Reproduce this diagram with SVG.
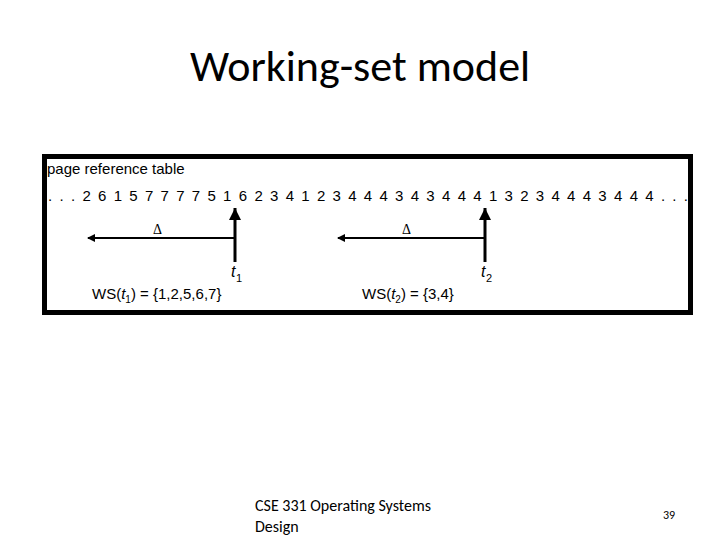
<svg xmlns="http://www.w3.org/2000/svg" width="720" height="540" viewBox="0 0 720 540">
<style>
.s{font-family:"Liberation Sans",Arial,sans-serif;fill:#000}
.c{font-family:Calibri,Carlito,"Liberation Sans",sans-serif;fill:#000}
.ln{stroke:#000;stroke-width:2;fill:none}
.vl{stroke:#000;stroke-width:3;fill:none}
</style>
<defs>
<marker id="ah" markerWidth="8" markerHeight="8" refX="7" refY="4" orient="auto" markerUnits="userSpaceOnUse"><path d="M0,0 L8,4 L0,8 z" fill="#000"/></marker>
<marker id="av" markerWidth="12" markerHeight="14" refX="12" refY="6" orient="auto" markerUnits="userSpaceOnUse"><path d="M0,0 L12,6 L0,12 z" fill="#000"/></marker>
</defs>
<rect width="720" height="540" fill="#fff"/>
<text class="c" x="360" y="81" font-size="44" text-anchor="middle">Working-set model</text>
<g id="frame">
<rect x="44.5" y="156.5" width="646" height="156" fill="#fff" stroke="#000" stroke-width="5"/>
<text class="s" x="47" y="174" font-size="15">page reference table</text>
<text class="s" x="48" y="201" font-size="15" textLength="640" lengthAdjust="spacing">. . . 2 6 1 5 7 7 7 7 5 1 6 2 3 4 1 2 3 4 4 4 3 4 3 4 4 4 1 3 2 3 4 4 4 3 4 4 4 . . .</text>
</g>
<g id="connectors">
<line class="vl" x1="235" y1="262" x2="235" y2="208" marker-end="url(#av)"/>
<line class="ln" x1="235" y1="238" x2="88" y2="238" marker-end="url(#ah)"/>
<line class="vl" x1="485" y1="262" x2="485" y2="208" marker-end="url(#av)"/>
<line class="ln" x1="485" y1="238" x2="338" y2="238" marker-end="url(#ah)"/>
</g>
<g id="t1">
<text x="153" y="234" font-size="14" font-family="Liberation Serif,serif">Δ</text>
<text class="s" x="231" y="277" font-size="16" font-style="italic">t</text>
<text class="s" x="236" y="282" font-size="11">1</text>
<text class="s" x="92" y="299" font-size="15">WS(<tspan font-style="italic">t</tspan><tspan font-size="10" dy="4">1</tspan><tspan dy="-4">) = {1,2,5,6,7}</tspan></text>
</g>
<g id="t2">
<text x="402" y="234" font-size="14" font-family="Liberation Serif,serif">Δ</text>
<text class="s" x="481" y="277" font-size="16" font-style="italic">t</text>
<text class="s" x="486" y="282" font-size="11">2</text>
<text class="s" x="362" y="299" font-size="15">WS(<tspan font-style="italic">t</tspan><tspan font-size="10" dy="4">2</tspan><tspan dy="-4">) = {3,4}</tspan></text>
</g>
<text class="c" x="255" y="511" font-size="16">CSE 331 Operating Systems</text>
<text class="c" x="255" y="532" font-size="16">Design</text>
<text class="c" x="663" y="519" font-size="12">39</text>
</svg>
